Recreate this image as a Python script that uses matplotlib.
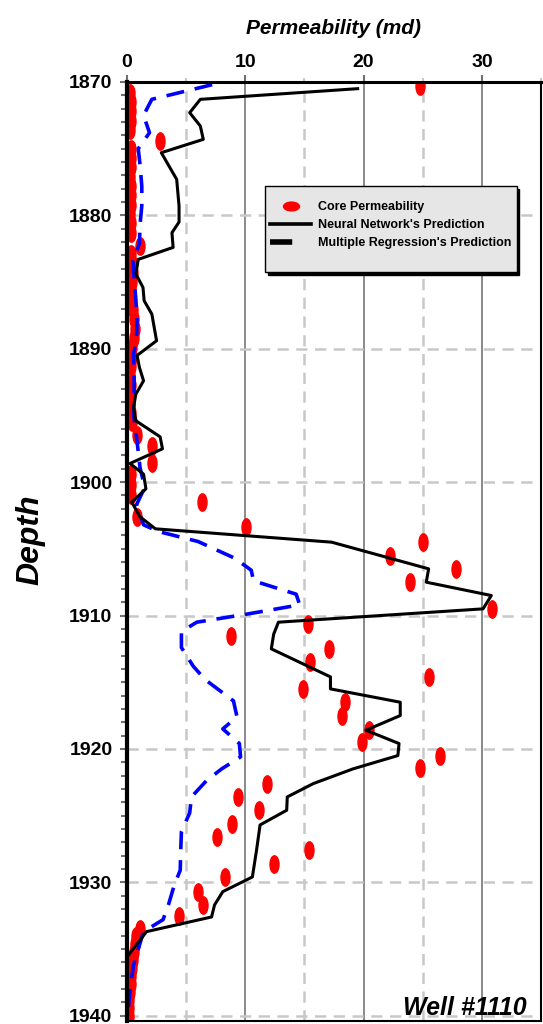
"""Well #1110 permeability profile: core data vs. NN and regression predictions."""

import matplotlib

matplotlib.use("Agg")
import matplotlib.pyplot as plt
from matplotlib.lines import Line2D
from matplotlib.markers import MarkerStyle
from matplotlib.ticker import MultipleLocator
from matplotlib.transforms import Affine2D

plt.rcParams["font.family"] = ["Liberation Sans", "DejaVu Sans"]
plt.rcParams["font.weight"] = "bold"

# core measurements (md, ft)
core_perm = [
    24.8, 0.25, 0.3, 0.35, 0.3, 0.25, 2.8,
    0.3, 0.35, 0.3, 0.25, 0.3, 0.35, 0.3, 0.25, 0.3, 0.3, 1.1,
    0.3, 0.4, 0.5, 0.4, 0.3, 0.35, 0.5, 0.6, 0.7, 0.6, 0.45, 0.4, 0.3,
    0.25, 0.3, 0.2, 0.25, 0.3, 0.4,
    0.85, 2.1, 2.1, 0.3, 0.3, 0.3, 6.3, 0.85, 10.05,
    25.0, 22.2, 27.8, 23.9, 30.85, 15.3, 8.8, 17.1, 15.5, 25.5, 14.9,
    18.4, 18.2, 20.5, 19.9, 26.5, 24.8, 11.8, 9.35, 11.2, 8.9, 7.6,
    15.4, 12.45, 8.3, 6.0, 6.4, 4.4, 1.1,
    0.8, 0.7, 0.6, 0.5, 0.4, 0.35, 0.3, 0.25, 0.2, 0.2, 0.2,
]
core_depth = [
    1870.3, 1870.8, 1871.5, 1872.2, 1872.9, 1873.6, 1874.4,
    1875.0, 1875.7, 1876.4, 1877.1, 1877.8, 1878.5, 1879.2, 1879.9, 1880.6, 1881.3, 1882.3,
    1882.9, 1883.6, 1884.3, 1885.0, 1885.7, 1886.4, 1887.1, 1887.8, 1888.5, 1889.2, 1889.9, 1890.6, 1891.3,
    1892.0, 1892.7, 1893.4, 1894.1, 1894.8, 1895.5,
    1896.5, 1897.3, 1898.6, 1899.4, 1900.2, 1901.0, 1901.5, 1902.6, 1903.4,
    1904.5, 1905.5, 1906.5, 1907.5, 1909.5, 1910.6, 1911.5, 1912.5, 1913.5, 1914.6, 1915.5,
    1916.5, 1917.5, 1918.6, 1919.5, 1920.5, 1921.4, 1922.6, 1923.6, 1924.6, 1925.6, 1926.6,
    1927.6, 1928.6, 1929.6, 1930.7, 1931.7, 1932.5, 1933.5,
    1934.0, 1934.6, 1935.2, 1935.8, 1936.4, 1937.0, 1937.6, 1938.2, 1938.8, 1939.4, 1940.0,
]

# neural network prediction
nn_perm = [
    19.5, 6.2, 5.3, 6.2, 6.45, 2.9, 4.2, 4.4, 4.4, 3.8, 3.9, 0.95, 0.75,
    1.35, 1.45, 2.1, 2.5, 0.85, 1.05, 1.4, 0.75, 0.55, 0.75, 2.8, 3.0,
    0.25, 1.4, 1.6, 0.4, 1.1, 2.4, 17.3, 25.5, 25.3, 30.8, 30.1, 12.8,
    12.4, 12.2, 17.2, 17.2, 23.1, 23.1, 20.2, 23.0, 22.9, 19.1, 15.75,
    13.55, 13.5, 11.25, 10.95, 10.6, 8.1, 7.4, 7.15, 1.65, 0.0, 0.0,
]
nn_depth = [
    1870.5, 1871.3, 1872.3, 1873.3, 1874.3, 1875.3, 1877.3, 1879.3, 1880.5, 1881.3, 1882.4, 1883.3, 1884.4,
    1885.4, 1886.4, 1887.4, 1889.4, 1890.5, 1891.4, 1892.4, 1893.4, 1894.4, 1895.4, 1896.6, 1897.5,
    1898.6, 1899.4, 1900.5, 1901.5, 1902.6, 1903.5, 1904.5, 1906.5, 1907.5, 1908.5, 1909.5, 1910.5,
    1911.4, 1912.5, 1914.6, 1915.5, 1916.5, 1917.5, 1918.6, 1919.6, 1920.5, 1921.5, 1922.6,
    1923.6, 1924.6, 1925.7, 1927.6, 1929.6, 1930.7, 1931.7, 1932.6, 1933.7, 1935.6, 1940.0,
]

# multiple regression prediction
mr_perm = [
    7.2, 2.1, 1.4, 1.9, 0.95, 1.1, 1.25, 1.25, 1.1, 1.05, 0.5, 0.6, 0.75,
    0.85, 0.8, 0.55, 0.6, 0.6, 0.55, 0.7, 0.8, 0.95, 1.1, 1.5, 0.8, 1.4,
    2.65, 6.0, 9.1, 10.5, 10.7, 14.3, 14.6, 10.1, 5.9, 4.6, 4.6, 5.6, 6.6,
    9.0, 9.3, 8.1, 9.5, 9.6, 8.0, 6.7, 5.45, 5.3, 4.6, 4.55, 4.5, 4.0,
    3.5, 3.05, 1.4, 0.55, 0.25, 0.1,
]
mr_depth = [
    1870.2, 1871.3, 1872.5, 1873.8, 1875.0, 1876.2, 1877.8, 1879.3, 1880.7, 1882.1, 1883.4, 1884.8, 1886.3,
    1887.7, 1889.4, 1890.4, 1892.0, 1893.3, 1894.9, 1895.9, 1896.6, 1897.7, 1898.9, 1900.4, 1901.7, 1903.2,
    1903.7, 1904.45, 1905.7, 1906.6, 1907.4, 1908.4, 1909.2, 1909.9, 1910.5, 1911.2, 1912.4, 1913.8, 1914.8,
    1916.4, 1917.6, 1918.5, 1919.6, 1920.6, 1921.5, 1922.4, 1923.6, 1924.8, 1926.2, 1927.4, 1929.1, 1930.2,
    1931.7, 1932.8, 1933.7, 1936.2, 1938.1, 1939.6,
]

RED = "#ff0000"
BLUE = "#0000ff"
GRID_DASH = (0, (4.5, 3))

fig = plt.figure(figsize=(5.43, 10.24), dpi=100)
ax = fig.add_axes([127 / 543, 3 / 1024, 414 / 543, 939 / 1024])

tall_ellipse = MarkerStyle("o", transform=Affine2D().scale(0.52, 1.0))
wide_ellipse = MarkerStyle("o", transform=Affine2D().scale(1.0, 0.55))

ax.plot(core_perm, core_depth, linestyle="none", marker=tall_ellipse,
        markersize=12.5, color=RED, zorder=2)
ax.plot(mr_perm, mr_depth, color=BLUE, lw=2.6, linestyle=(0, (5, 3)),
        zorder=2.2)
ax.plot(nn_perm, nn_depth, color="black", lw=2.2, zorder=2.4)

ax.set_xlim(0, 35)
ax.set_ylim(1940.4, 1870)
ax.xaxis.tick_top()
ax.xaxis.set_label_position("top")
ax.xaxis.set_major_locator(MultipleLocator(10))
ax.xaxis.set_minor_locator(MultipleLocator(5))
ax.yaxis.set_major_locator(MultipleLocator(10))
ax.yaxis.set_minor_locator(MultipleLocator(1))

ax.set_axisbelow(True)
ax.grid(axis="y", which="major", color="#c8c8c8", linestyle=GRID_DASH, lw=1.8)
ax.grid(axis="x", which="major", color="#8a8a8a", linestyle="-", lw=1.4)
ax.grid(axis="x", which="minor", color="#c8c8c8", linestyle=GRID_DASH, lw=1.8)

ax.tick_params(axis="x", which="major", length=5, width=1.5, color="#707070",
               pad=3, labelsize=14)
ax.tick_params(axis="x", which="minor", length=3, width=1.5, color="#c8c8c8")
ax.tick_params(axis="y", which="major", length=5, width=1.5, color="#707070",
               pad=5.5, labelsize=14)
ax.tick_params(axis="y", which="minor", length=4, width=1.5, color="#707070")

ax.spines["left"].set_linewidth(3)
ax.spines["top"].set_linewidth(2.2)
ax.spines["right"].set_linewidth(1.5)
ax.spines["bottom"].set_linewidth(1.5)

ax.set_xlabel("Permeability (md)", fontsize=15, fontweight="bold",
              fontstyle="italic", labelpad=14)
ax.set_ylabel("Depth", fontsize=23, fontweight="bold", fontstyle="italic")
ax.yaxis.set_label_coords(-0.198, 0.512)

ax.text(0.966, 0.006, "Well #1110", transform=ax.transAxes, ha="right",
        va="baseline", fontsize=18, fontweight="bold", fontstyle="italic")

# legend: a blank title row and a blank last row give the frame its
# extra top/bottom room while the side padding stays tight
handles = [
    Line2D([], [], linestyle="none", marker=wide_ellipse, markersize=11.5,
           color=RED),
    Line2D([], [], color="black", lw=2.6),
    Line2D([], [], color="black", lw=4, linestyle=(0, (4, 10))),
    Line2D([], [], linestyle="none"),
]
labels = [
    "Core Permeability",
    "Neural Network's Prediction",
    "Multiple Regression's Prediction",
    " ",
]
ax.legend(handles, labels, loc="upper left",
          bbox_to_anchor=((265 - 127) / 414, (1021 - 186) / 939),
          borderaxespad=0, frameon=True, fancybox=False,
          shadow={"color": "black", "alpha": 1}, edgecolor="black",
          facecolor="#e6e6e6", framealpha=1,
          prop={"size": 9, "weight": "bold"}, title=" ", title_fontsize=2,
          handlelength=3.3, handletextpad=0.55, labelspacing=0.48,
          borderpad=0.4)

fig.savefig("out.png", dpi=100)
